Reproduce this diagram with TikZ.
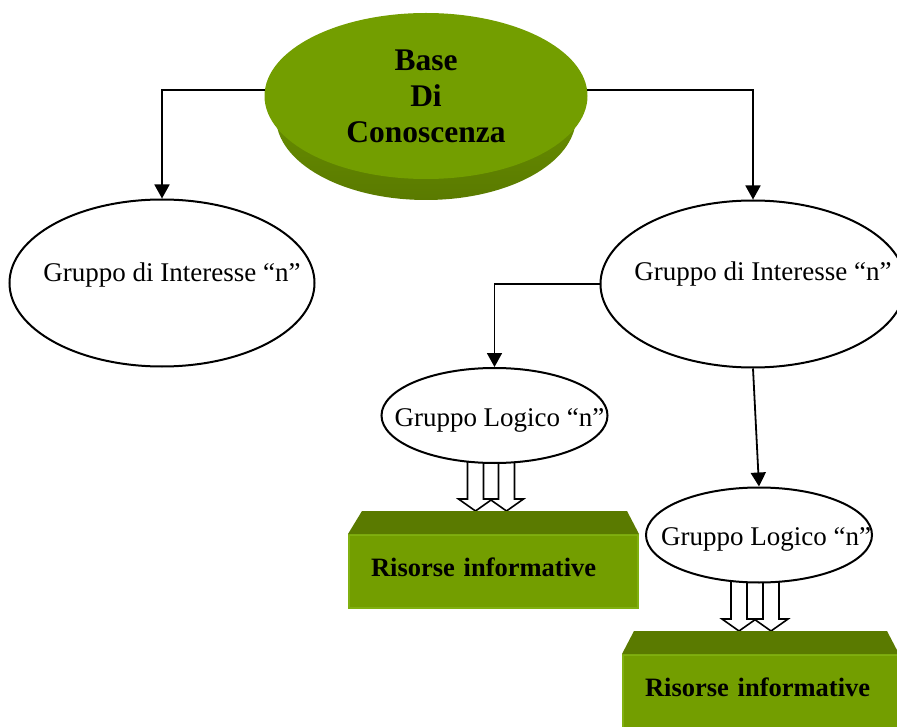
\documentclass[tikz,border=0pt]{standalone}
\usepackage{fontspec}
\setmainfont{Liberation Serif}
\usetikzlibrary{shapes.geometric,arrows.meta,backgrounds}
\definecolor{leaf}{RGB}{115,158,0}
\definecolor{leafdark}{RGB}{90,122,0}
\definecolor{leaflight}{RGB}{128,176,16}
\newcommand{\hollowarrow}[3]{%
  \path ([xshift=#3]#1.south) coordinate (t) (t |- #2) coordinate (b);
  \draw[hollow] ([shift={(-8pt,12pt)}]t) -- ([shift={(-8pt,12pt)}]b) -- ([shift={(-17pt,12pt)}]b) -- (b)
    -- ([shift={(17pt,12pt)}]b) -- ([shift={(8pt,12pt)}]b) -- ([shift={(8pt,12pt)}]t);
}

\begin{document}
\begin{tikzpicture}[x=1pt, y=-1pt, font=\fontsize{27}{32}\selectfont,
    disk/.style={ellipse, fill=leaf, minimum width=323pt, minimum height=166pt, inner sep=0pt, align=center, font=\fontsize{31.5}{36}\selectfont\bfseries},
    interest/.style={ellipse, draw, line width=2pt, fill=white, minimum width=305pt, minimum height=167pt, inner sep=0pt, text height=18pt, text depth=6pt},
    logic/.style={interest, minimum width=226pt, minimum height=95pt},
    res/.style={rectangle, fill=leaf, draw=leaflight, line width=2pt, minimum height=73pt, inner xsep=22pt, inner ysep=0pt, align=left, font=\fontsize{26.5}{30}\selectfont\bfseries},
    link/.style={line width=1.8pt, -{Triangle[length=14pt, width=15pt]}},
    hollow/.style={draw, fill=white, line width=1.6pt}]
    \useasboundingbox (0,0) rectangle (897,727);

    % Knowledge base
    \shade[top color=leaf, bottom color=leafdark] (426,117) ellipse [x radius=150pt, y radius=83pt];
    \node[disk] (base) at (426,96) {Base\\Di\\Conoscenza};

    % Interest groups
    \node[interest] (gi1) at (162,283) {\makebox[0pt]{\hspace*{20pt}\raisebox{7pt}{Gruppo di Interesse “n”}}};
    \node[interest] (gi2) at (753,284) {\makebox[0pt]{\hspace*{20pt}\raisebox{9pt}{Gruppo di Interesse “n”}}};

    % Logical groups
    \node[logic] (gl1) at (494.5,415.5) {\makebox[0pt]{\hspace*{10pt}\raisebox{-5pt}{Gruppo Logico “n”}}};
    \node[logic] (gl2) at (759,535) {\makebox[0pt]{\hspace*{14pt}\raisebox{-4pt}{Gruppo Logico “n”}}};

    % Resources
    \node[res, text width=245pt] (res1) at (493.5,571.5) {\raisebox{9pt}{Risorse informative}};
    \node[res, text width=231pt] (res2) at (760.5,691.5) {\raisebox{9pt}{Risorse informative}};
    \fill[leafdark] (res1.north west) -- ([shift={(14pt,23pt)}]res1.north west) -- ([shift={(-12pt,23pt)}]res1.north east) -- (res1.north east) -- cycle;
    \fill[leafdark] (res2.north west) -- ([shift={(12pt,23pt)}]res2.north west) -- ([shift={(-12pt,23pt)}]res2.north east) -- (res2.north east) -- cycle;
    \coordinate (res1top) at ([yshift=23pt]res1.north);
    \coordinate (res2top) at ([yshift=23pt]res2.north);

    % Connectors
    \draw[link] (base.178) -| (gi1.north);
    \draw[link] (base.2) -| (gi2.north);
    \draw[link] (gi2.west) -| (gl1.north);
    \draw[link] (gi2.south) -- (gl2.north);

    \begin{scope}[on background layer]
        \hollowarrow{gl1}{res1top}{-19pt}
        \hollowarrow{gl1}{res1top}{12pt}
        \hollowarrow{gl2}{res2top}{-20pt}
        \hollowarrow{gl2}{res2top}{12pt}
    \end{scope}
\end{tikzpicture}
\end{document}
